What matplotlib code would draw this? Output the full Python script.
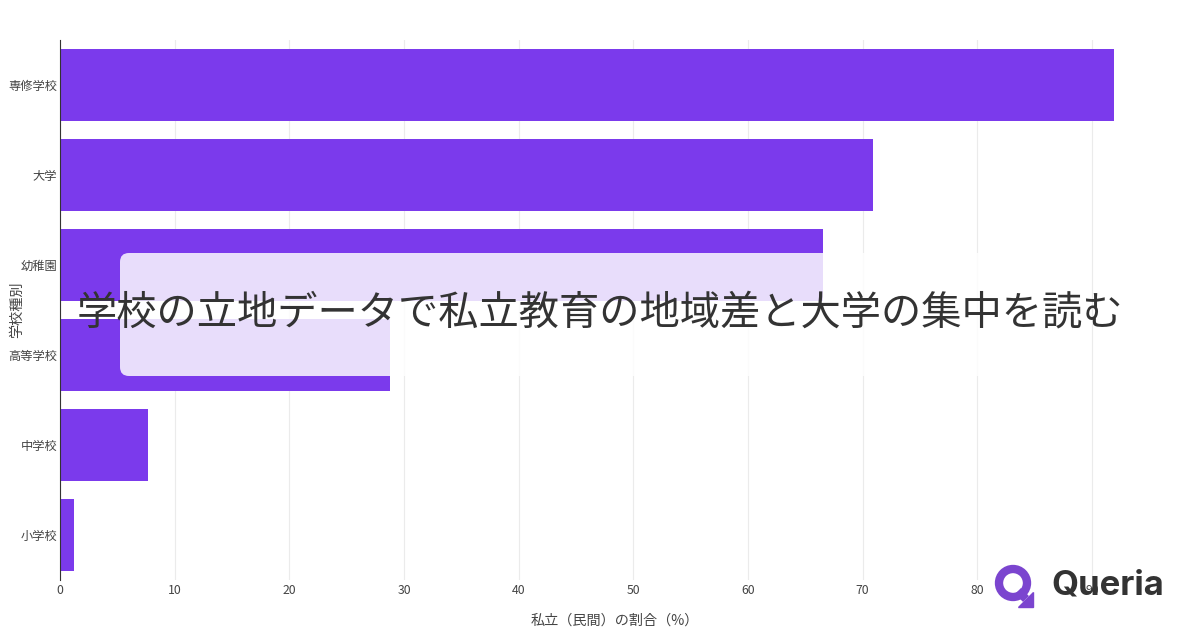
import matplotlib
matplotlib.use("Agg")
import matplotlib.pyplot as plt
from matplotlib.patches import FancyBboxPatch, Circle, Polygon
from matplotlib.lines import Line2D

plt.rcParams['font.family'] = ['Noto Sans CJK JP', 'DejaVu Sans']

categories = ["専修学校", "大学", "幼稚園", "高等学校", "中学校", "小学校"]
private_share = [91.9, 70.9, 66.5, 28.8, 7.7, 1.2]
x_ticks = [0, 10, 20, 30, 40, 50, 60, 70, 80, 90]
title = "学校の立地データで私立教育の地域差と大学の集中を読む"
x_label = "私立（民間）の割合（%）"
y_label = "学校種別"

BAR = "#7B3AEC"
W, H = 1200, 630

fig = plt.figure(figsize=(12, 6.3), dpi=100)
ax = fig.add_axes([60 / W, 1 - 580 / H, 1110 / W, 540 / H])

ypos = list(range(len(categories)))[::-1]
ax.barh(ypos, private_share, height=0.8, color=BAR, zorder=2)
ax.set_yticks(ypos)
ax.set_yticklabels(categories)
ax.set_ylim(-0.5, len(categories) - 0.5)
ax.set_xlim(0, 96.8)
ax.set_xticks(x_ticks)
ax.set_xticklabels([str(t) for t in x_ticks])
ax.grid(axis="x", color="#ebebeb", linewidth=0.8, zorder=0)
ax.set_axisbelow(True)
for s in ["top", "right", "bottom"]:
    ax.spines[s].set_visible(False)
ax.spines["left"].set_color("#333333")
ax.spines["left"].set_linewidth(0.8)
ax.tick_params(axis="both", length=0, labelsize=8.8, labelcolor="#444444")
ax.tick_params(axis="x", pad=3)
ax.tick_params(axis="y", pad=2)
ax.set_xlabel(x_label, fontsize=10.2, color="#444444")
ax.set_ylabel(y_label, fontsize=10.2, color="#444444")
ax.xaxis.set_label_coords(0.5, -41 / 540)
ax.yaxis.set_label_coords(-43 / 1110, 0.5)
ax.xaxis.label.set_va("center")
ax.yaxis.label.set_va("center")

# overlay axes in pixel coordinates
ov = fig.add_axes([0, 0, 1, 1], zorder=10)
ov.set_xlim(0, W)
ov.set_ylim(H, 0)
ov.axis("off")
ov.patch.set_alpha(0)

box = FancyBboxPatch((120, 253), 960, 123, boxstyle="round,pad=0,rounding_size=9",
                     facecolor="white", edgecolor="none", alpha=0.83)
ov.add_patch(box)
ov.text(600, 313, title, ha="center", va="center", fontsize=29, color="#333333")

# logo
LOGO = "#7B45CF"
ov.add_patch(Circle((1013, 583), 14, fill=False, edgecolor=LOGO, linewidth=6))
ov.add_line(Line2D([1018, 1026], [591, 599], color=LOGO, linewidth=6, solid_capstyle="butt"))
ov.add_patch(Polygon([[1033, 592], [1033, 607], [1018, 607]], closed=True, color=LOGO))
ov.text(1051, 586, "Queria", ha="left", va="center", fontsize=25, fontweight="bold",
        color="#333333", family=["Inter", "DejaVu Sans"])

fig.savefig("out.png", dpi=100)
